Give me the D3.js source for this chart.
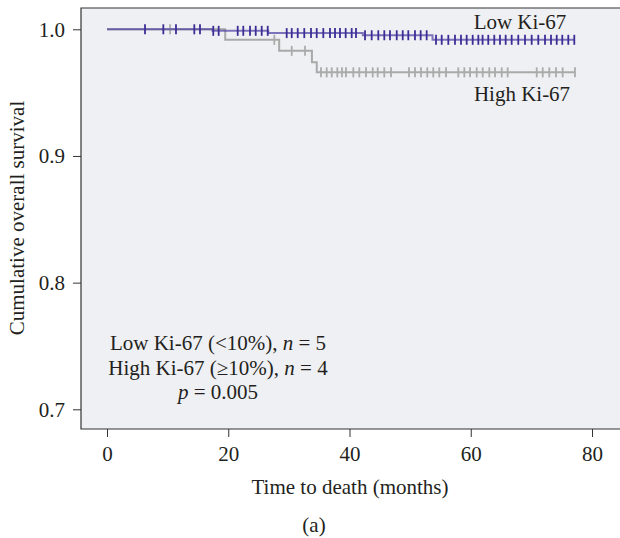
<!DOCTYPE html>
<html><head><meta charset="utf-8">
<script src="https://cdn.jsdelivr.net/npm/d3@7"></script>
<style>
html,body{margin:0;padding:0;background:#fff;}
svg{display:block;}
text{font-family:"Liberation Serif","DejaVu Serif",serif;fill:#231f20;}
</style></head>
<body>
<script>
// ---- data ----
const xTicks = [0, 20, 40, 60, 80];
const yTicks = [0.7, 0.8, 0.9, 1.0];

const lowStepTimes = [0, 17.4, 26.6, 42.2, 53.7, 77.1];
const lowStepValues = [1.0, 0.9988, 0.997, 0.9953, 0.9917, 0.9917];
const lowCensor = [6.27, 9.29, 11.38, 14.40, 15.34, 17.53, 18.42, 21.56, 22.48, 23.59, 24.53, 25.52, 26.51,
  29.64, 30.47, 31.46, 32.54, 33.65, 34.59, 35.68, 36.78, 37.61, 38.43, 39.37, 40.36, 41.07,
  42.56, 43.66, 44.75, 45.74, 46.68, 47.79, 48.78, 49.70, 50.80, 51.74, 52.73,
  54.27, 55.21, 56.30, 57.40, 58.39, 59.33, 60.32, 61.25, 61.95, 62.89, 63.88, 64.82, 65.76, 66.75,
  67.84, 68.95, 70.05, 71.14, 72.25, 73.24, 74.18, 75.10, 76.09, 77.08];

const highStepTimes = [0, 19.5, 28.4, 33.8, 34.6, 77.2];
const highStepValues = [1.0, 0.9917, 0.983, 0.974, 0.966, 0.966];
const highCensor = [10.4, 27.6, 30.47, 32.66, 35.30, 36.24, 37.07, 37.99, 38.76, 39.42, 40.63, 41.62,
  42.72, 43.83, 44.65, 45.74, 46.85, 49.81, 50.80, 51.79, 52.83, 53.82, 54.81, 55.92,
  57.95, 58.94, 59.88, 60.98, 61.97, 63.06, 64.00, 65.11, 66.09, 70.88, 71.87, 72.96,
  74.06, 75.16, 77.19];

const seriesLabels = ["Low Ki-67", "High Ki-67"];
const noteLines = ["Low Ki-67 (<10%), ", "High Ki-67 (≥10%), "];
const noteN = [5, 4];
const pValue = "0.005";
const xTitle = "Time to death (months)";
const yTitle = "Cumulative overall survival";
const caption = "(a)";

// ---- layout ----
const W = 620, H = 538;
const FS = 21;
const panel = {left: 81, top: 8, right: 621, bottom: 429};
const x = d3.scaleLinear().domain([0, 80]).range([107, 592]);
const y = d3.scaleLinear().domain([0.7, 1.0]).range([409.3, 29.3]);

const svg = d3.select("body").append("svg").attr("width", W).attr("height", H);

svg.append("rect").attr("x", panel.left).attr("y", panel.top)
  .attr("width", panel.right - panel.left).attr("height", panel.bottom - panel.top)
  .attr("fill", "#eff0f3");
svg.append("path")
  .attr("d", `M${panel.right},${panel.top}H${panel.left}V${panel.bottom}H${panel.right}`)
  .attr("fill", "none").attr("stroke", "#333").attr("stroke-width", 1.2);

// axes
const yAxis = d3.axisLeft(y).tickValues(yTicks).tickFormat(d3.format(".1f")).tickSize(8).tickPadding(8);
const gy = svg.append("g").attr("transform", `translate(${panel.left},0)`).call(yAxis);
gy.select(".domain").remove();
gy.selectAll("line").attr("stroke", "#333");
gy.selectAll("text").attr("font-size", FS).style("font-family", '"Liberation Serif",serif').attr("fill", "#231f20");

const xAxis = d3.axisBottom(x).tickValues(xTicks).tickFormat(d3.format("d")).tickSize(8).tickPadding(9);
const gx = svg.append("g").attr("transform", `translate(0,${panel.bottom})`).call(xAxis);
gx.select(".domain").remove();
gx.selectAll("line").attr("stroke", "#333");
gx.selectAll("text").attr("font-size", FS).style("font-family", '"Liberation Serif",serif').attr("fill", "#231f20");

// curves
function stepValue(times, values, t) {
  let v = values[0];
  for (let i = 0; i < times.length; i++) if (times[i] <= t) v = values[i];
  return v;
}
const line = d3.line().x(d => x(d[0])).y(d => y(d[1])).curve(d3.curveStepAfter);

function drawSeries(times, values, censor, lineColor, lineOpacity, tickColor) {
  const pts = times.map((t, i) => [t, values[i]]);
  svg.append("path").attr("d", line(pts)).attr("fill", "none")
    .attr("stroke", lineColor).attr("stroke-opacity", lineOpacity).attr("stroke-width", 2);
  svg.append("g").selectAll("line").data(censor).join("line")
    .attr("x1", d => x(d)).attr("x2", d => x(d))
    .attr("y1", d => y(stepValue(times, values, d)) - 5)
    .attr("y2", d => y(stepValue(times, values, d)) + 5)
    .attr("stroke", tickColor).attr("stroke-width", 1.8);
}
drawSeries(highStepTimes, highStepValues, highCensor, "#a9a9a9", 1, "#ababab");
drawSeries(lowStepTimes, lowStepValues, lowCensor, "#4a3fa3", 0.7, "#3a2e96");

// labels
svg.append("text").attr("x", 520).attr("y", 29).attr("text-anchor", "middle")
  .attr("font-size", FS).text(seriesLabels[0]);
svg.append("text").attr("x", 522).attr("y", 101).attr("text-anchor", "middle")
  .attr("font-size", FS).text(seriesLabels[1]);

// note
const noteX = 218;
[0, 1].forEach(i => {
  const t = svg.append("text").attr("x", noteX).attr("y", 350 + i * 24.5)
    .attr("text-anchor", "middle").attr("font-size", FS);
  t.append("tspan").text(noteLines[i]);
  t.append("tspan").attr("font-style", "italic").text("n");
  t.append("tspan").text(" = " + noteN[i]);
});
const pt = svg.append("text").attr("x", noteX).attr("y", 399)
  .attr("text-anchor", "middle").attr("font-size", FS);
pt.append("tspan").attr("font-style", "italic").text("p");
pt.append("tspan").text(" = " + pValue);

// titles
svg.append("text").attr("x", 350).attr("y", 494).attr("text-anchor", "middle")
  .attr("font-size", FS).text(xTitle);
svg.append("text").attr("transform", "translate(24,218) rotate(-90)")
  .attr("text-anchor", "middle").attr("font-size", FS).text(yTitle);
svg.append("text").attr("x", 314).attr("y", 532).attr("text-anchor", "middle")
  .attr("font-size", FS).text(caption);
</script>
</body></html>
